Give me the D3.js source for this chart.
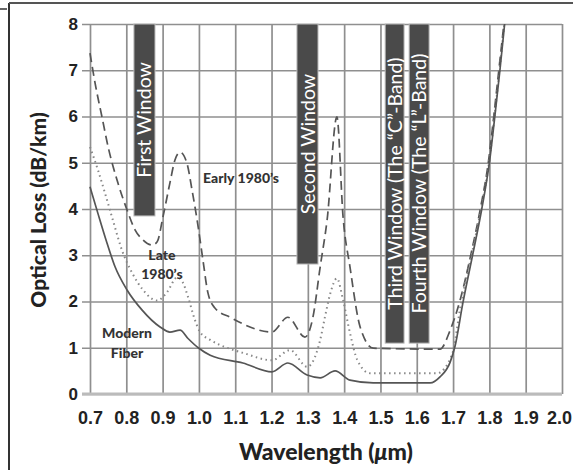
<!DOCTYPE html>
<html>
<head>
<meta charset="utf-8">
<script src="https://cdn.jsdelivr.net/npm/d3@7"></script>
<style>
  body { margin: 0; background: #fff; }
  svg { display: block; font-family: Lato, "Open Sans", sans-serif; }
</style>
</head>
<body>
<div id="chart"></div>
<script>
const wavelengthTicks = [0.7, 0.8, 0.9, 1.0, 1.1, 1.2, 1.3, 1.4, 1.5, 1.6, 1.7, 1.8, 1.9, 2.0];
const lossTicks = [0, 1, 2, 3, 4, 5, 6, 7, 8];

// early 1980's fibre (dashed)
const earlyWl = [0.700, 0.714, 0.733, 0.750, 0.777, 0.802, 0.824, 0.846, 0.871, 0.885, 0.901, 0.920, 0.934, 0.948, 0.967, 0.981, 0.998, 1.011, 1.025, 1.044, 1.086, 1.201, 1.245, 1.292, 1.314, 1.334, 1.353, 1.380, 1.397, 1.416, 1.444, 1.480, 1.664, 1.692, 1.720, 1.750, 1.775, 1.797, 1.812, 1.826, 1.840];
const earlyLoss = [7.37, 6.72, 5.99, 5.34, 4.56, 3.98, 3.55, 3.33, 3.22, 3.29, 3.83, 4.56, 5.06, 5.23, 4.99, 4.41, 3.61, 2.90, 2.18, 1.86, 1.66, 1.34, 1.66, 1.23, 1.66, 2.75, 3.76, 5.99, 3.83, 2.75, 1.45, 0.99, 0.97, 1.38, 2.05, 3.05, 4.00, 5.00, 6.00, 7.00, 8.00];

// late 1980's fibre (dotted)
const lateWl = [0.700, 0.722, 0.741, 0.763, 0.788, 0.816, 0.846, 0.885, 0.912, 0.940, 0.955, 0.970, 0.989, 1.003, 1.031, 1.077, 1.121, 1.201, 1.251, 1.298, 1.334, 1.347, 1.362, 1.380, 1.397, 1.416, 1.436, 1.471, 1.656, 1.697, 1.722, 1.752, 1.777, 1.799, 1.814, 1.828, 1.841];
const lateLoss = [5.34, 4.84, 4.35, 3.76, 3.11, 2.62, 2.25, 2.02, 2.20, 2.52, 2.42, 2.10, 1.60, 1.34, 1.17, 1.00, 0.89, 0.73, 0.95, 0.59, 1.17, 1.66, 2.18, 2.50, 2.03, 1.32, 0.74, 0.45, 0.45, 0.85, 1.97, 3.05, 4.00, 5.00, 6.00, 7.00, 8.00];

// modern fibre (solid)
const modernWl = [0.700, 0.722, 0.747, 0.769, 0.802, 0.843, 0.893, 0.920, 0.948, 0.970, 0.998, 1.031, 1.121, 1.201, 1.245, 1.298, 1.334, 1.375, 1.416, 1.480, 1.637, 1.664, 1.692, 1.705, 1.727, 1.755, 1.779, 1.800, 1.815, 1.829, 1.842];
const modernLoss = [4.48, 3.90, 3.26, 2.75, 2.25, 1.82, 1.45, 1.34, 1.38, 1.20, 1.00, 0.84, 0.67, 0.48, 0.67, 0.41, 0.35, 0.50, 0.30, 0.24, 0.24, 0.37, 0.69, 1.02, 1.97, 3.05, 4.00, 5.00, 6.00, 7.00, 8.00];

// transmission windows
const windowNames = ["First Window", "Second Window", "Third Window (The \u201CC\u201D-Band)", "Fourth Window (The \u201CL\u201D-Band)"];
const windowStart = [0.821, 1.270, 1.513, 1.579];
const windowEnd = [0.879, 1.328, 1.565, 1.634];
const windowBottom = [3.85, 2.81, 1.10, 1.10];

const width = 573, height = 470;
const plot = {left: 90, right: 562, top: 24, bottom: 394};

const svg = d3.select("#chart").append("svg")
  .attr("width", width)
  .attr("height", height);

// frame
svg.append("line").attr("x1", 9).attr("x2", 9).attr("y1", 3).attr("y2", height)
  .attr("stroke", "#333").attr("stroke-width", 2);
svg.append("line").attr("x1", 9).attr("x2", width).attr("y1", 3).attr("y2", 3)
  .attr("stroke", "#555").attr("stroke-width", 2);
svg.append("line").attr("x1", 0).attr("x2", 7).attr("y1", 9).attr("y2", 9)
  .attr("stroke", "#333").attr("stroke-width", 1.5);

const x = d3.scaleLinear().domain([0.7, 2.0]).range([plot.left, plot.right]);
const y = d3.scaleLinear().domain([0, 8]).range([plot.bottom, plot.top]);

// horizontal grid + y labels
const yAxis = svg.append("g")
  .attr("transform", "translate(" + (plot.left - 8) + ",0)")
  .call(d3.axisLeft(y).tickValues(lossTicks).tickFormat(d3.format("d"))
    .tickSizeInner(-(plot.right - plot.left + 8)).tickSizeOuter(0).tickPadding(4));
yAxis.select(".domain").remove();
yAxis.selectAll("line").attr("stroke", "#8f8f8f").attr("stroke-width", 1.7);
yAxis.selectAll("text").attr("font-size", 17).attr("font-weight", 900).attr("fill", "#222");

// vertical grid + x labels
const xAxis = svg.append("g")
  .attr("transform", "translate(0," + plot.bottom + ")")
  .call(d3.axisBottom(x).tickValues(wavelengthTicks).tickFormat(d3.format(".1f"))
    .tickSizeInner(-(plot.bottom - plot.top)).tickSizeOuter(0).tickPadding(17));
xAxis.select(".domain").remove();
xAxis.selectAll("line").attr("stroke", "#8f8f8f").attr("stroke-width", 1.7);
xAxis.selectAll("text").attr("font-size", 18).attr("font-weight", 900).attr("fill", "#222")
  .attr("dx", d => d === 2.0 ? -3 : 0);

// zero line
svg.append("line")
  .attr("x1", x(0.7) - 8).attr("x2", x(2.0))
  .attr("y1", y(0)).attr("y2", y(0))
  .attr("stroke", "#bbb").attr("stroke-width", 3);

// window bars
const windows = windowNames.map((name, i) => ({
  name: name, start: windowStart[i], end: windowEnd[i], bottom: windowBottom[i]
}));

const bars = svg.selectAll(".window")
  .data(windows)
  .enter().append("g")
  .attr("class", "window");

bars.append("rect")
  .attr("x", d => x(d.start))
  .attr("y", y(8))
  .attr("width", d => x(d.end) - x(d.start))
  .attr("height", d => y(d.bottom) - y(8))
  .attr("fill", "#4a4a4a")
  .attr("stroke", "#bbb")
  .attr("stroke-width", 1);

bars.append("text")
  .attr("transform", d => "translate(" + ((x(d.start) + x(d.end)) / 2) + "," + ((y(8) + y(d.bottom)) / 2) + ") rotate(-90)")
  .attr("text-anchor", "middle")
  .attr("dy", "0.36em")
  .attr("fill", "#fff")
  .attr("font-size", 19.5)
  .text(d => d.name);

// loss curves
const line = d3.line()
  .x(d => x(d[0]))
  .y(d => y(d[1]))
  .curve(d3.curveMonotoneX);

svg.append("path")
  .datum(d3.zip(earlyWl, earlyLoss))
  .attr("d", line)
  .attr("fill", "none")
  .attr("stroke", "#555")
  .attr("stroke-width", 1.7)
  .attr("stroke-dasharray", "9,5");

svg.append("path")
  .datum(d3.zip(lateWl, lateLoss))
  .attr("d", line)
  .attr("fill", "none")
  .attr("stroke", "#888")
  .attr("stroke-width", 2)
  .attr("stroke-dasharray", "1.5,3.5");

svg.append("path")
  .datum(d3.zip(modernWl, modernLoss))
  .attr("d", line)
  .attr("fill", "none")
  .attr("stroke", "#555")
  .attr("stroke-width", 1.7);

// curve labels
const labels = svg.append("g")
  .attr("font-size", 14)
  .attr("font-weight", 900)
  .attr("fill", "#333")
  .attr("text-anchor", "middle");

labels.append("text").attr("x", x(1.116)).attr("y", y(4.67)).attr("dy", "0.35em").text("Early 1980\u2019s");
labels.append("text").attr("x", x(0.898)).attr("y", y(3.0)).attr("dy", "0.35em").text("Late");
labels.append("text").attr("x", x(0.898)).attr("y", y(2.6)).attr("dy", "0.35em").text("1980\u2019s");
labels.append("text").attr("x", x(0.802)).attr("y", y(1.32)).attr("dy", "0.35em").text("Modern");
labels.append("text").attr("x", x(0.802)).attr("y", y(0.89)).attr("dy", "0.35em").text("Fiber");

// axis titles
svg.append("text")
  .attr("transform", "translate(46,210) rotate(-90)")
  .attr("text-anchor", "middle")
  .attr("font-size", 21)
  .attr("font-weight", 900)
  .attr("fill", "#222")
  .text("Optical Loss (dB/km)");

const xTitle = svg.append("text")
  .attr("x", 326)
  .attr("y", 460)
  .attr("text-anchor", "middle")
  .attr("font-size", 23)
  .attr("font-weight", 900)
  .attr("fill", "#222");
xTitle.append("tspan").text("Wavelength (");
xTitle.append("tspan").attr("font-style", "italic").text("\u03BC");
xTitle.append("tspan").text("m)");
</script>
</body>
</html>
